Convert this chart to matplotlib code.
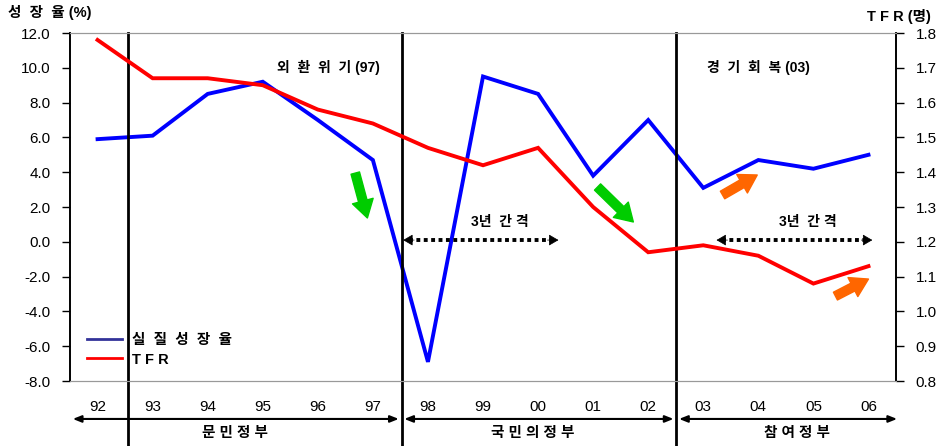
import numpy as np
import matplotlib.pyplot as plt
from matplotlib.lines import Line2D
import matplotlib.transforms as mtransforms

plt.rcParams['font.family'] = ['Liberation Sans', 'Noto Sans CJK KR', 'DejaVu Sans']

years = ['92', '93', '94', '95', '96', '97', '98', '99', '00', '01', '02', '03', '04', '05', '06']
growth = [5.9, 6.1, 8.5, 9.2, 7.0, 4.7, -6.9, 9.5, 8.5, 3.8, 7.0, 3.1, 4.7, 4.2, 5.0]
tfr = [1.78, 1.67, 1.67, 1.65, 1.58, 1.54, 1.47, 1.42, 1.47, 1.30, 1.17, 1.19, 1.16, 1.08, 1.13]

gov_names = ['문 민 정 부', '국 민 의 정 부', '참 여 정 부']
gov_bounds = [(-0.45, 5.47), (5.57, 10.46), (10.56, 14.52)]
gov_label_x = [2.5, 7.9, 12.7]
boundaries = [0.56, 5.52, 10.51]

x = np.arange(len(years))

fig = plt.figure(figsize=(9.4, 4.46), dpi=100)
ax = fig.add_axes([0.0745, 0.1457, 0.8787, 0.7803])
ax2 = ax.twinx()

ax.plot(x, growth, color='#0000FF', lw=2.8, solid_joinstyle='miter', zorder=3)
ax2.plot(x, tfr, color='#FF0000', lw=2.8, solid_joinstyle='miter', zorder=3)

ax.set_xlim(-0.5, 14.5)
ax.set_ylim(-8, 12)
ax2.set_ylim(0.8, 1.8)
ax.set_yticks(np.arange(-8, 12.1, 2))
ax.set_yticklabels([f'{v:.1f}' for v in np.arange(-8, 12.1, 2)])
ax2.set_yticks(np.arange(0.8, 1.81, 0.1))
ax2.set_yticklabels([f'{v:.1f}' for v in np.arange(0.8, 1.81, 0.1)])
ax.set_xticks(x)
ax.set_xticklabels(years)

ax.tick_params(axis='x', length=0, pad=14, labelsize=11)
ax.tick_params(axis='y', direction='out', length=6, width=1, pad=8, labelsize=11)
ax2.tick_params(axis='y', direction='out', length=6, width=1, pad=8, labelsize=11)

for a in (ax, ax2):
    a.spines['top'].set_color('#999999')
    a.spines['bottom'].set_color('#999999')
    a.spines['left'].set_color('black')
    a.spines['right'].set_color('black')
    a.spines['left'].set_linewidth(1.2)
    a.spines['right'].set_linewidth(1.2)

# government period boundaries, extending below the axes
for b in boundaries:
    ax.axvline(b, ymin=-0.19, ymax=1, color='black', lw=2, clip_on=False, zorder=4)

# period arrows and labels under the year row
trans = mtransforms.blended_transform_factory(ax.transData, ax.transAxes)
for (x0, x1), name, lx in zip(gov_bounds, gov_names, gov_label_x):
    ax.annotate('', xy=(x0, -0.109), xytext=(x1, -0.109), xycoords=trans, textcoords=trans,
                arrowprops=dict(arrowstyle='<|-|>,head_length=0.5,head_width=0.2', color='black', lw=1.5,
                                shrinkA=0, shrinkB=0), annotation_clip=False)
    ax.text(lx, -0.15, name, transform=trans, ha='center', va='center', fontsize=10.5, fontweight='bold')

# "3년 간격" dotted double arrows
for (x0, x1), tx in [((5.55, 8.37), 7.3), ((11.24, 14.07), 12.9)]:
    ax.plot([x0 + 0.1, x1 - 0.1], [0.1, 0.1], color='black', lw=2.8, ls=(0, (1, 0.9)), zorder=5)
    for a0, a1 in [(x0 + 0.2, x0), (x1 - 0.2, x1)]:
        ax.annotate('', xy=(a1, 0.1), xytext=(a0, 0.1),
                    arrowprops=dict(arrowstyle='-|>,head_length=0.6,head_width=0.35', color='black', lw=0.5,
                                    shrinkA=0, shrinkB=0))
    ax.text(tx, 0.75, '3년  간 격', ha='center', va='bottom', fontsize=10, fontweight='bold')

# trend arrows
fat = 'simple,head_width=1.1,head_length=0.9,tail_width=0.45'
for (p0, p1), c in [(((4.68, 3.95), (4.90, 1.37)), '#00CC00'),
                    (((9.08, 3.15), (9.73, 1.14)), '#00CC00'),
                    (((11.35, 2.69), (11.98, 3.84)), '#FF6600'),
                    (((13.40, -3.12), (14.0, -2.14)), '#FF6600')]:
    ax.annotate('', xy=p1, xytext=p0,
                arrowprops=dict(arrowstyle=fat, color=c, mutation_scale=14, shrinkA=0, shrinkB=0), zorder=6)

ax.text(4.2, 10.0, '외  환  위  기 (97)', ha='center', va='center', fontsize=10, fontweight='bold')
ax.text(12.0, 10.0, '경  기  회  복 (03)', ha='center', va='center', fontsize=10, fontweight='bold')

fig.text(0.009, 0.972, '성  장  율 (%)', ha='left', va='center', fontsize=10.5, fontweight='bold')
fig.text(0.99, 0.962, 'T F R (명)', ha='right', va='center', fontsize=10.5, fontweight='bold')

handles = [Line2D([], [], color='#333399', lw=2), Line2D([], [], color='#FF0000', lw=2)]
ax.legend(handles, ['실  질  성  장  율', 'T F R'], loc='lower left', bbox_to_anchor=(0.005, 0.004),
          frameon=False, handlelength=2.4, handletextpad=0.7, labelspacing=0.4,
          prop={'size': 10.5, 'weight': 'bold'})

fig.savefig('out.png', dpi=100)
